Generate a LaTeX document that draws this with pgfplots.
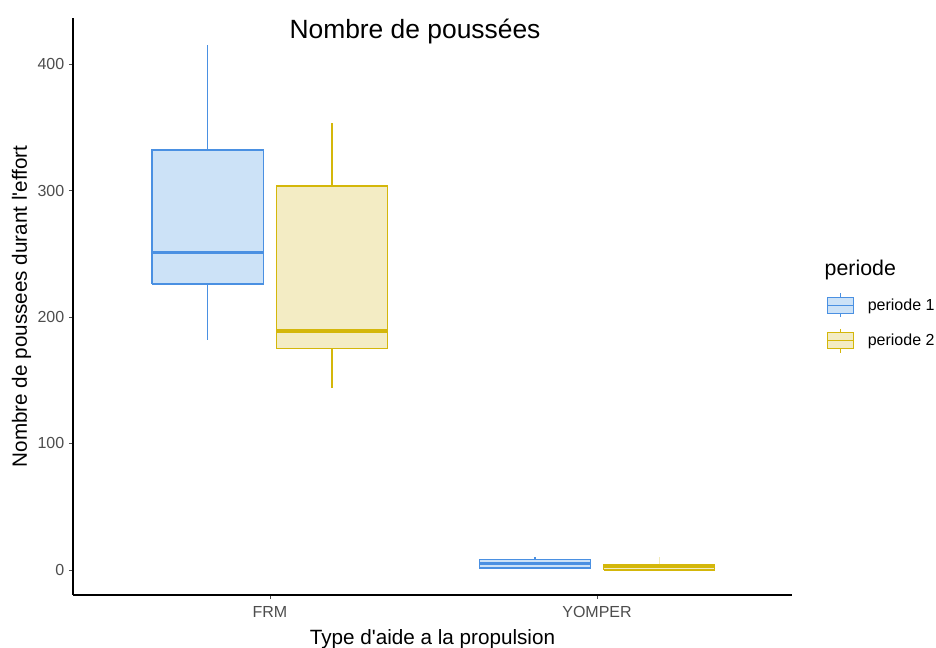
\documentclass[border=0pt]{standalone}
\usepackage{fontspec}
\setmainfont{Liberation Sans}
\usepackage{pgfplots}
\pgfplotsset{compat=1.18}
\definecolor{bline}{RGB}{74,144,226}
\definecolor{bfill}{RGB}{204,226,247}
\definecolor{yline}{RGB}{212,183,10}
\definecolor{yfill}{RGB}{243,236,196}
\definecolor{tickgray}{RGB}{77,77,77}
\pgfplotsset{
  boxkey/.style={legend image code/.code={
    \draw[##1] (0pt,-6pt) rectangle (19pt,6pt);
    \draw[##1] (0pt,0pt) -- (19pt,0pt);
    \draw[##1] (9.5pt,6pt) -- (9.5pt,9pt);
    \draw[##1] (9.5pt,-6pt) -- (9.5pt,-9pt);
  }}
}
\begin{document}
\begin{tikzpicture}
\path[use as bounding box] (0pt,0pt) rectangle (702pt,486pt);
\begin{axis}[
  at={(54.75pt,39.75pt)}, anchor=south west,
  scale only axis, width=539.25pt, height=432.75pt,
  xmin=0.398, xmax=2.596, ymin=-19.8, ymax=436.4,
  axis x line*=bottom, axis y line*=left,
  axis line style={-, black, line width=0.8pt},
  xtick={1,2}, xticklabels={FRM,YOMPER},
  ytick={0,100,200,300,400},
  tick align=outside, major tick length=3pt,
  tick style={tickgray, line width=0.6pt},
  tick label style={font=\fontsize{12}{14}\selectfont, text=tickgray},
  xticklabel style={yshift=-2pt},
  /pgf/number format/assume math mode=true,
  xlabel={Type d\textquotesingle aide a la propulsion},
  ylabel={Nombre de poussees durant l\textquotesingle effort},
  label style={font=\fontsize{15.5}{17}\selectfont},
  xlabel style={yshift=-2pt},
  ylabel style={yshift=-2pt},
  legend style={at={(rel axis cs:1.0487,0.4715)}, anchor=west, draw=none, fill=none,
    font=\fontsize{12}{14}\selectfont, row sep=7.5pt, inner sep=0pt,
    nodes={inner xsep=0pt}},
  legend cell align=left,
]
\addlegendimage{boxkey, draw=bline, fill=bfill, line width=0.9pt}
\addlegendentry{\hspace{10.5pt}periode 1}
\addlegendimage{boxkey, draw=yline, fill=yfill, line width=0.9pt}
\addlegendentry{\hspace{10.5pt}periode 2}
% ---- FRM periode 1 (center 0.81): Q1 226, med 251, Q3 332, whiskers 182 / 415
\addplot[forget plot, draw=bline, fill=bfill, line width=1pt, line join=miter]
  coordinates {(0.64,226) (0.98,226) (0.98,332) (0.64,332) (0.64,226)};
\addplot[forget plot, bline, line width=2.6pt] coordinates {(0.64,251) (0.98,251)};
\addplot[forget plot, bline, line width=1pt] coordinates {(0.81,332) (0.81,415)};
\addplot[forget plot, bline, line width=1pt] coordinates {(0.81,226) (0.81,182)};
% ---- FRM periode 2 (center 1.19): Q1 175, med 189, Q3 303.5, whiskers 144 / 353
\addplot[forget plot, draw=yline, fill=yfill, line width=1pt, line join=miter]
  coordinates {(1.02,175) (1.36,175) (1.36,303.5) (1.02,303.5) (1.02,175)};
\addplot[forget plot, yline, line width=2.6pt] coordinates {(1.02,189) (1.36,189)};
\addplot[forget plot, yline, line width=1pt] coordinates {(1.19,303.5) (1.19,353)};
\addplot[forget plot, yline, line width=1pt] coordinates {(1.19,175) (1.19,144)};
% ---- YOMPER periode 1 (center 1.81): Q1 1.5, med 5, Q3 8.5, whiskers 1.5 / 10
\addplot[forget plot, draw=bline, fill=bfill, line width=1pt, line join=miter]
  coordinates {(1.64,1.5) (1.98,1.5) (1.98,8.5) (1.64,8.5) (1.64,1.5)};
\addplot[forget plot, bline, line width=2.2pt] coordinates {(1.64,5) (1.98,5)};
\addplot[forget plot, bline, line width=1pt] coordinates {(1.81,8.5) (1.81,10)};
% ---- YOMPER periode 2 (center 2.19): Q1 0, med 2.5, Q3 4.5, whiskers 0 / 10
\addplot[forget plot, draw=yline, fill=yfill, line width=1pt, line join=miter]
  coordinates {(2.02,0) (2.36,0) (2.36,4.5) (2.02,4.5) (2.02,0)};
\addplot[forget plot, yline, line width=2.2pt] coordinates {(2.02,2.5) (2.36,2.5)};
\addplot[forget plot, yline!30, line width=0.5pt] coordinates {(2.19,4.5) (2.19,10)};
\end{axis}
\node[anchor=west, font=\fontsize{16}{18}\selectfont] at (615pt,283.5pt) {periode};
\node[font=\fontsize{19.8}{22}\selectfont] at (311.25pt,462.25pt) {Nombre de poussées};
\end{tikzpicture}
\end{document}
